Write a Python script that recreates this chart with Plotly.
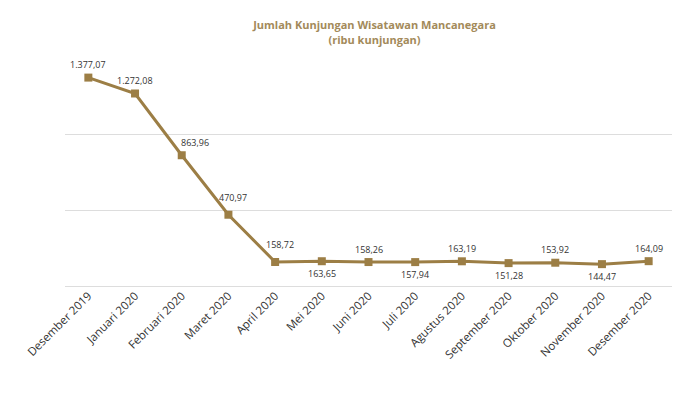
import plotly.graph_objects as go

months = ["Desember 2019", "Januari 2020", "Februari 2020", "Maret 2020", "April 2020",
          "Mei 2020", "Juni 2020", "Juli 2020", "Agustus 2020", "September 2020",
          "Oktober 2020", "November 2020", "Desember 2020"]
visits = [1377.07, 1272.08, 863.96, 470.97, 158.72, 163.65, 158.26, 157.94, 163.19,
          151.28, 153.92, 144.47, 164.09]
labels = ["1.377,07", "1.272,08", "863,96", "470,97", "158,72", "163,65", "158,26",
          "157,94", "163,19", "151,28", "153,92", "144,47", "164,09"]
label_side = ["above", "above", "above", "above", "above", "below", "above",
              "below", "above", "below", "above", "below", "above"]

gold = "#9C7E45"

fig = go.Figure()
fig.add_trace(go.Scatter(
    x=months, y=visits, mode="lines+markers",
    line=dict(color=gold, width=3),
    marker=dict(symbol="square", size=8, color=gold),
    hoverinfo="skip",
))

# label offsets (pixels) for readability on the steep part
xshift = {2: 13, 3: 5, 4: 5}
yshift_above = {3: 17, 4: 17}
for i, (m, v, t, s) in enumerate(zip(months, visits, labels, label_side)):
    ys = yshift_above.get(i, 13) if s == "above" else -12
    fig.add_annotation(
        x=m, y=v, text=t, showarrow=False,
        xshift=xshift.get(i, 0), yshift=ys,
        font=dict(family="Open Sans", size=9, color="#333333"),
    )

fig.update_layout(
    width=700, height=393,
    paper_bgcolor="white", plot_bgcolor="white",
    margin=dict(l=65, r=28, t=59, b=107),
    showlegend=False,
    title=dict(
        text="<b>Jumlah Kunjungan Wisatawan Mancanegara<br>(ribu kunjungan)</b>",
        x=0.535, xanchor="center", y=0.925, yanchor="top",
        font=dict(family="Open Sans", size=11, color="#A38A5A"),
    ),
    font=dict(family="Open Sans"),
)
fig.update_xaxes(
    type="category", tickangle=-45, automargin=False,
    range=[-0.5, len(months) - 0.5],
    tickfont=dict(family="Open Sans", size=11.5, color="#333333"),
    showgrid=False, showline=False, ticks="",
)
fig.update_yaxes(
    range=[0, 1500], dtick=500, showticklabels=False, automargin=False,
    showgrid=True, gridcolor="#DDDDDD", gridwidth=1,
    zeroline=True, zerolinecolor="#DDDDDD", zerolinewidth=1,
    showline=False, ticks="",
)

fig.write_html("out.html")
